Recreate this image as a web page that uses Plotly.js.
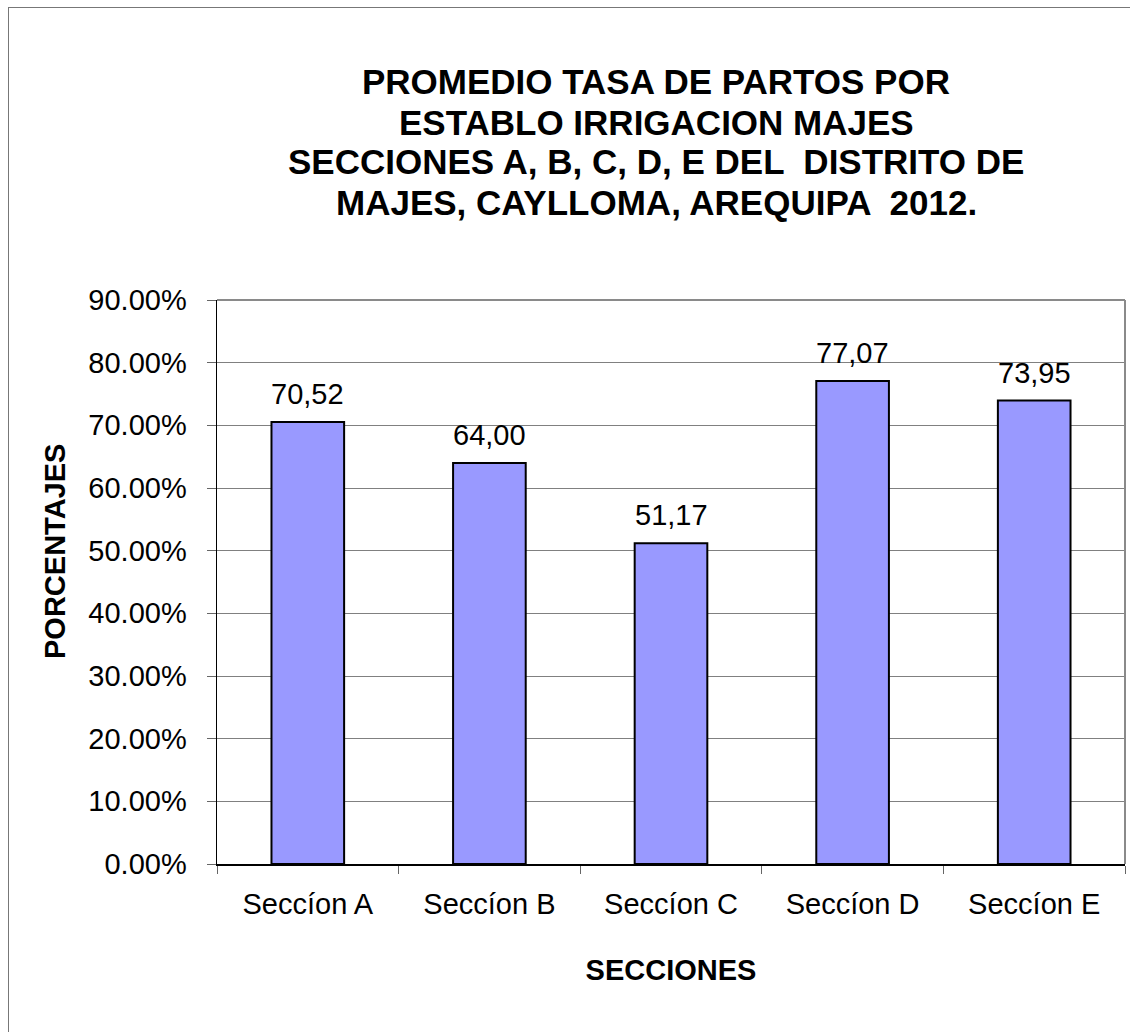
<!DOCTYPE html>
<html><head><meta charset="utf-8">
<script src="https://cdn.plot.ly/plotly-3.0.1.min.js"></script>
<style>
html,body{margin:0;padding:0;background:#fff;}
#frame{position:absolute;left:8px;top:7px;width:1130px;height:1040px;border-left:1px solid #777;border-top:1px solid #777;box-sizing:border-box;pointer-events:none;}
#chart{position:absolute;left:0;top:0;width:1130px;height:1032px;}
</style></head>
<body>
<div id="chart"></div>
<div id="frame"></div>
<script>
const categories = ["Seccíon A", "Seccíon B", "Seccíon C", "Seccíon D", "Seccíon E"];
const values = [0.7052, 0.6400, 0.5117, 0.7707, 0.7395];
const labels = ["70,52", "64,00", "51,17", "77,07", "73,95"];
const yTicks = [0, 0.1, 0.2, 0.3, 0.4, 0.5, 0.6, 0.7, 0.8, 0.9];
const titleLines = [
  "PROMEDIO TASA DE PARTOS POR",
  "ESTABLO IRRIGACION MAJES",
  "SECCIONES A, B, C, D, E DEL  DISTRITO DE",
  "MAJES, CAYLLOMA, AREQUIPA  2012."
];
const yTitle = "PORCENTAJES";
const xTitle = "SECCIONES";

const FONT = 'Arial, Liberation Sans, sans-serif';
const W = 1130, H = 1032, L = 217, R = 5, T = 300, B = 168;
const pw = W - L - R, ph = H - T - B;
const px2x = p => (p - L) / pw;
const py2y = p => (H - B - p) / ph;

const trace = {
  type: 'bar', x: categories, y: values, width: 0.4,
  marker: {color: '#9999FF', line: {color: '#000', width: 2}},
  hoverinfo: 'skip'
};

const annotations = categories.map((c, i) => ({
  x: c, y: values[i], xref: 'x', yref: 'y', text: labels[i],
  showarrow: false, yanchor: 'bottom', yshift: 10,
  font: {family: FONT, size: 29, color: '#000'}
}));

titleLines.forEach((t, i) => {
  annotations.push({
    x: px2x(656), y: py2y(82 + 40 * i), xref: 'paper', yref: 'paper',
    xanchor: 'center', yanchor: 'middle', showarrow: false,
    text: '<b>' + t + '</b>',
    font: {family: FONT, size: 35, color: '#000'}
  });
});

annotations.push({
  x: px2x(55), y: py2y(552), xref: 'paper', yref: 'paper',
  xanchor: 'center', yanchor: 'middle', showarrow: false, textangle: -90,
  text: '<b>' + yTitle + '</b>', font: {family: FONT, size: 29, color: '#000'}
});

const layout = {
  width: W, height: H,
  margin: {l: L, r: R, t: T, b: B},
  paper_bgcolor: '#fff', plot_bgcolor: '#fff',
  font: {family: FONT, color: '#000'},
  showlegend: false,
  xaxis: {
    type: 'category',
    showline: true, linecolor: '#000', linewidth: 1.5,
    ticks: 'outside', tickson: 'boundaries', ticklen: 8, tickcolor: '#666', tickwidth: 1,
    tickfont: {size: 29}, ticklabelstandoff: 14,
    showgrid: false,
    title: {text: '<b>' + xTitle + '</b>', font: {size: 29}, standoff: 40}
  },
  yaxis: {
    range: [0, 0.9], tickvals: yTicks, tickformat: '.2%',
    showline: true, linecolor: '#000', linewidth: 1.5,
    ticks: 'outside', ticklen: 9, tickcolor: '#666',
    tickfont: {size: 29}, ticklabelstandoff: 14,
    showgrid: true, gridcolor: '#808080', gridwidth: 1,
    zeroline: false
  },
  annotations: annotations,
  shapes: [
    {type: 'line', xref: 'paper', yref: 'paper', x0: 0, x1: 1, y0: 1, y1: 1, line: {color: '#8a8a8a', width: 2}},
    {type: 'line', xref: 'paper', yref: 'paper', x0: 1, x1: 1, y0: 0, y1: 1, line: {color: '#8a8a8a', width: 2}}
  ]
};

Plotly.newPlot('chart', [trace], layout, {displayModeBar: false, staticPlot: true});
</script>
</body></html>
